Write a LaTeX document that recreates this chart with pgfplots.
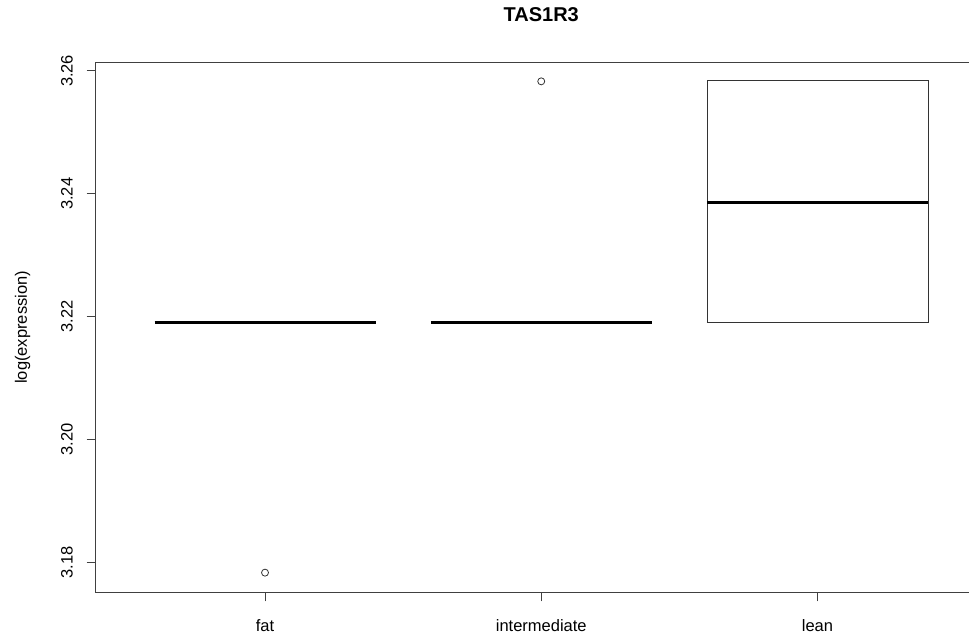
\documentclass[border=0pt]{standalone}
\usepackage{fontspec}
\setmainfont{Liberation Sans}
\usepackage{pgfplots}
\pgfplotsset{compat=1.18}
\begin{document}
\begin{tikzpicture}
\begin{axis}[name=ax, scale only axis, width=893pt, height=530pt,
  xmin=0.387, xmax=3.62, ymin=3.1751, ymax=3.2614,
  xtick={1,2,3}, xticklabels={fat,intermediate,lean},
  ytick={3.18,3.20,3.22,3.24,3.26}, yticklabels={3.18,3.20,3.22,3.24,3.26},
  tick align=outside, major tick length=9pt, tick pos=left,
  tick style={black!75, line width=0.8pt},
  axis line style={black!75, line width=0.8pt},
  /pgf/number format/assume math mode=true,
  ticklabel style={font=\fontsize{16.5}{19}\selectfont},
  xticklabel style={anchor=base, yshift=-30pt},
  yticklabel style={xshift=-14pt, rotate=90, anchor=base},
  ylabel={log(expression)},
  ylabel style={at={([xshift=-68.7pt]rel axis cs:0,0.5)}, anchor=base, font=\fontsize{16.5}{19}\selectfont},
  title={TAS1R3},
  title style={at={([yshift=35pt]rel axis cs:0.4989,1)}, anchor=base, font=\bfseries\fontsize{20}{24}\selectfont},
  clip=false,
]
% lean box (quartiles 3.219 / 3.2584)
\addplot[black!80, line width=0.8pt, mark=none] coordinates {(2.6,3.219) (3.4,3.219) (3.4,3.2584) (2.6,3.2584) (2.6,3.219)};
% medians
\addplot[black, line width=3pt, mark=none] coordinates {(0.6,3.219) (1.4,3.219)};
\addplot[black, line width=3pt, mark=none] coordinates {(1.6,3.219) (2.4,3.219)};
\addplot[black, line width=3pt, mark=none] coordinates {(2.6,3.2385) (3.4,3.2385)};
% outliers
\addplot[only marks, mark=o, mark size=3.5pt, mark options={black!80, line width=0.8pt}] coordinates {(1,3.1783) (2,3.2583)};
\end{axis}
\pgfresetboundingbox
\useasboundingbox ([xshift=-95.7pt,yshift=-42.7pt]ax.south west) rectangle ([xshift=873.3pt,yshift=592.3pt]ax.south west);
\end{tikzpicture}
\end{document}
